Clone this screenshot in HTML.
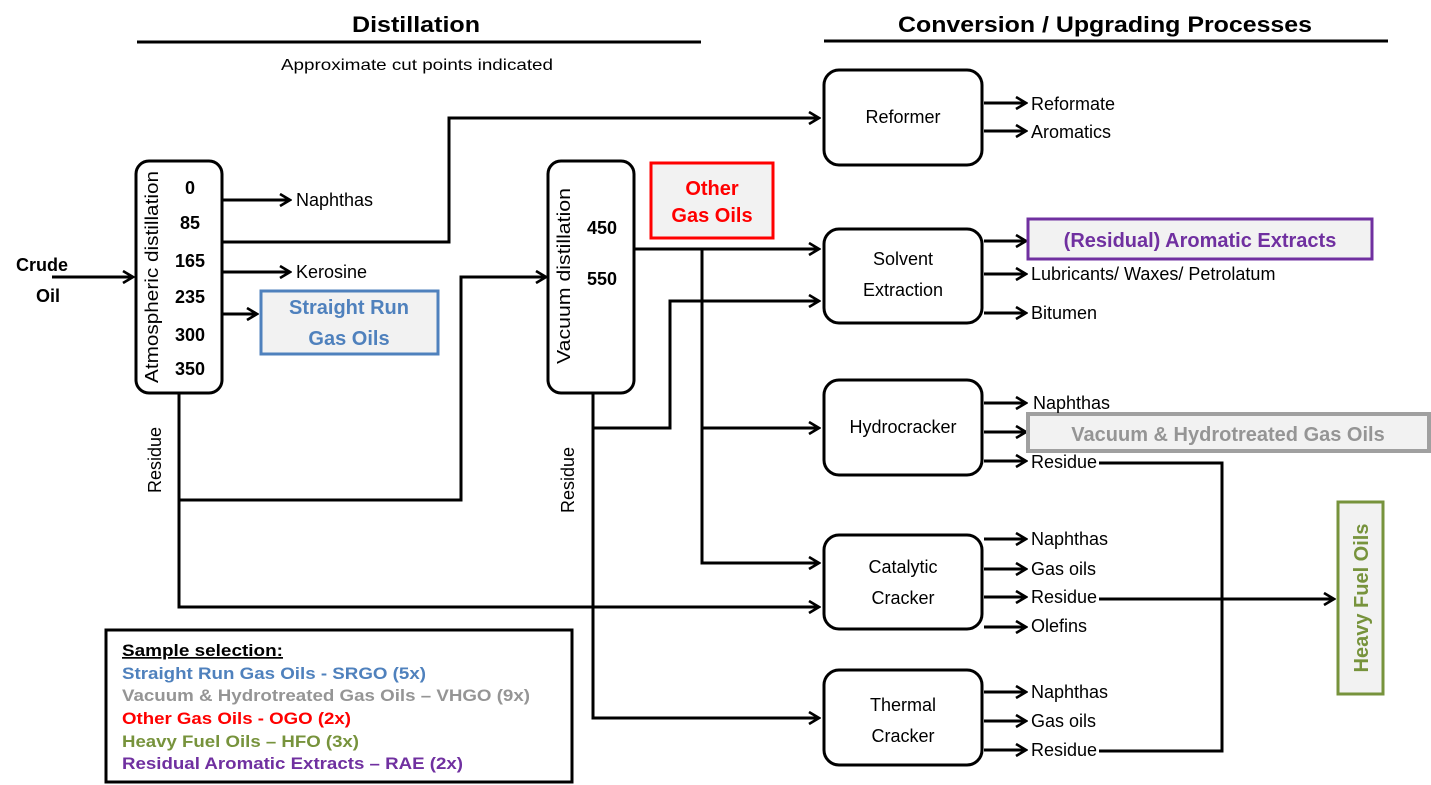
<!DOCTYPE html>
<html><head><meta charset="utf-8"><style>
html,body{margin:0;padding:0;background:#fff;}
svg{display:block;}
text{font-family:"Liberation Sans",Arial,sans-serif;}
</style></head><body>
<svg width="1431" height="785" viewBox="0 0 1431 785" xmlns="http://www.w3.org/2000/svg">
<defs>
<marker id="a" markerWidth="14" markerHeight="14" refX="12" refY="7" orient="auto" markerUnits="userSpaceOnUse">
<path d="M2,1 L12,7 L2,13" fill="none" stroke="#000" stroke-width="2.6"/>
</marker>
</defs>
<g fill="#000">
<text x="416" y="32" font-size="22" font-weight="bold" text-anchor="middle" textLength="128" lengthAdjust="spacingAndGlyphs">Distillation</text>
<text x="1105" y="32" font-size="22" font-weight="bold" text-anchor="middle" textLength="414" lengthAdjust="spacingAndGlyphs">Conversion / Upgrading Processes</text>
<text x="417" y="70" font-size="16" text-anchor="middle" textLength="272" lengthAdjust="spacingAndGlyphs">Approximate cut points indicated</text>
</g>
<line x1="137" y1="42" x2="701" y2="42" stroke="#000" stroke-width="3"/>
<line x1="824" y1="41" x2="1388" y2="41" stroke="#000" stroke-width="3"/>

<g stroke="#000" stroke-width="3" fill="none">
<line x1="52" y1="277" x2="133" y2="277" marker-end="url(#a)"/>
<line x1="222" y1="200" x2="290" y2="200" marker-end="url(#a)"/>
<line x1="222" y1="272" x2="290" y2="272" marker-end="url(#a)"/>
<line x1="222" y1="314" x2="257" y2="314" marker-end="url(#a)"/>
<polyline points="222,242 449,242 449,118 819,118" marker-end="url(#a)"/>
<polyline points="179,393 179,607 819,607" marker-end="url(#a)"/>
<polyline points="179,500 461,500 461,277 546,277" marker-end="url(#a)"/>
<line x1="634" y1="249" x2="819" y2="249" marker-end="url(#a)"/>
<polyline points="702,249 702,563 819,563" marker-end="url(#a)"/>
<line x1="702" y1="428" x2="819" y2="428" marker-end="url(#a)"/>
<polyline points="593,393 593,718 819,718" marker-end="url(#a)"/>
<polyline points="593,428 670,428 670,301 819,301" marker-end="url(#a)"/>
<line x1="984" y1="103" x2="1026" y2="103" marker-end="url(#a)"/>
<line x1="984" y1="131" x2="1026" y2="131" marker-end="url(#a)"/>
<line x1="984" y1="241" x2="1026" y2="241" marker-end="url(#a)"/>
<line x1="984" y1="274" x2="1026" y2="274" marker-end="url(#a)"/>
<line x1="984" y1="313" x2="1026" y2="313" marker-end="url(#a)"/>
<line x1="984" y1="403" x2="1026" y2="403" marker-end="url(#a)"/>
<line x1="984" y1="432" x2="1026" y2="432" marker-end="url(#a)"/>
<line x1="984" y1="461" x2="1026" y2="461" marker-end="url(#a)"/>
<line x1="984" y1="539" x2="1026" y2="539" marker-end="url(#a)"/>
<line x1="984" y1="569" x2="1026" y2="569" marker-end="url(#a)"/>
<line x1="984" y1="597" x2="1026" y2="597" marker-end="url(#a)"/>
<line x1="984" y1="627" x2="1026" y2="627" marker-end="url(#a)"/>
<line x1="984" y1="692" x2="1026" y2="692" marker-end="url(#a)"/>
<line x1="984" y1="721" x2="1026" y2="721" marker-end="url(#a)"/>
<line x1="984" y1="750" x2="1026" y2="750" marker-end="url(#a)"/>
<polyline points="1099,463 1222,463 1222,751 1099,751"/>
<line x1="1099" y1="599" x2="1334" y2="599" marker-end="url(#a)"/>
<rect x="136" y="161" width="86" height="232" rx="13" fill="#fff"/>
<rect x="548" y="161" width="86" height="232" rx="13" fill="#fff"/>
<rect x="824" y="70" width="158" height="95" rx="15" fill="#fff"/>
<rect x="824" y="229" width="158" height="94" rx="15" fill="#fff"/>
<rect x="824" y="380" width="158" height="95" rx="15" fill="#fff"/>
<rect x="824" y="535" width="158" height="94" rx="15" fill="#fff"/>
<rect x="824" y="670" width="158" height="95" rx="15" fill="#fff"/>
<rect x="106" y="630" width="466" height="152" fill="#fff"/>
</g>
<rect x="261" y="291" width="177" height="63" fill="#f2f2f2" stroke="#4f81bd" stroke-width="3"/>
<rect x="651" y="163" width="122" height="75" fill="#f2f2f2" stroke="#ff0000" stroke-width="3"/>
<rect x="1028" y="219" width="344" height="40" fill="#f2f2f2" stroke="#7030a0" stroke-width="3"/>
<rect x="1028" y="414" width="401" height="37" fill="#f2f2f2" stroke="#a0a0a0" stroke-width="4"/>
<rect x="1338" y="502" width="45" height="192" fill="#f2f2f2" stroke="#77933c" stroke-width="3"/>

<g font-size="18" fill="#000">
<text x="42" y="271" font-weight="bold" text-anchor="middle">Crude</text>
<text x="48" y="302" font-weight="bold" text-anchor="middle">Oil</text>
<g font-weight="bold" text-anchor="middle">
<text x="190" y="194">0</text><text x="190" y="229">85</text><text x="190" y="267">165</text>
<text x="190" y="303">235</text><text x="190" y="341">300</text><text x="190" y="375">350</text>
<text x="602" y="234">450</text><text x="602" y="285">550</text>
</g>
<text transform="translate(158,277) rotate(-90)" text-anchor="middle" textLength="212" lengthAdjust="spacingAndGlyphs">Atmospheric distillation</text>
<text transform="translate(570,276) rotate(-90)" text-anchor="middle" textLength="176" lengthAdjust="spacingAndGlyphs">Vacuum  distillation</text>
<text transform="translate(161,460) rotate(-90)" text-anchor="middle">Residue</text>
<text transform="translate(574,480) rotate(-90)" text-anchor="middle">Residue</text>
<text x="296" y="206">Naphthas</text>
<text x="296" y="278">Kerosine</text>
<g text-anchor="middle">
<text x="903" y="123">Reformer</text>
<text x="903" y="265">Solvent</text>
<text x="903" y="296">Extraction</text>
<text x="903" y="433">Hydrocracker</text>
<text x="903" y="573">Catalytic</text>
<text x="903" y="604">Cracker</text>
<text x="903" y="711">Thermal</text>
<text x="903" y="742">Cracker</text>
</g>
<text x="1031" y="110">Reformate</text>
<text x="1031" y="138">Aromatics</text>
<text x="1031" y="280">Lubricants/ Waxes/ Petrolatum</text>
<text x="1031" y="319">Bitumen</text>
<text x="1033" y="409">Naphthas</text>
<text x="1031" y="468">Residue</text>
<text x="1031" y="545">Naphthas</text>
<text x="1031" y="575">Gas oils</text>
<text x="1031" y="603">Residue</text>
<text x="1031" y="632">Olefins</text>
<text x="1031" y="698">Naphthas</text>
<text x="1031" y="727">Gas oils</text>
<text x="1031" y="756">Residue</text>
</g>
<g font-weight="bold" text-anchor="middle">
<text x="349" y="314" font-size="20" fill="#4f81bd">Straight Run</text>
<text x="349" y="345" font-size="20" fill="#4f81bd">Gas Oils</text>
<text x="712" y="195" font-size="20" fill="#ff0000">Other</text>
<text x="712" y="222" font-size="20" fill="#ff0000">Gas Oils</text>
<text x="1200" y="247" font-size="20" fill="#7030a0">(Residual) Aromatic Extracts</text>
<text x="1228" y="441" font-size="20" fill="#959595">Vacuum &amp; Hydrotreated Gas Oils</text>
<text transform="translate(1368,598) rotate(-90)" font-size="20" fill="#77933c">Heavy Fuel Oils</text>
</g>
<g font-size="17" font-weight="bold">
<text x="122" y="656" fill="#000" text-decoration="underline" textLength="161" lengthAdjust="spacingAndGlyphs">Sample selection:</text>
<text x="122" y="679" fill="#4f81bd" textLength="304" lengthAdjust="spacingAndGlyphs">Straight Run Gas Oils - SRGO (5x)</text>
<text x="122" y="701" fill="#959595" textLength="408" lengthAdjust="spacingAndGlyphs">Vacuum &amp; Hydrotreated Gas Oils – VHGO (9x)</text>
<text x="122" y="724" fill="#ff0000" textLength="229" lengthAdjust="spacingAndGlyphs">Other Gas Oils - OGO (2x)</text>
<text x="122" y="747" fill="#77933c" textLength="237" lengthAdjust="spacingAndGlyphs">Heavy Fuel Oils – HFO (3x)</text>
<text x="122" y="769" fill="#7030a0" textLength="341" lengthAdjust="spacingAndGlyphs">Residual Aromatic Extracts – RAE (2x)</text>
</g>
</svg>
</body></html>
